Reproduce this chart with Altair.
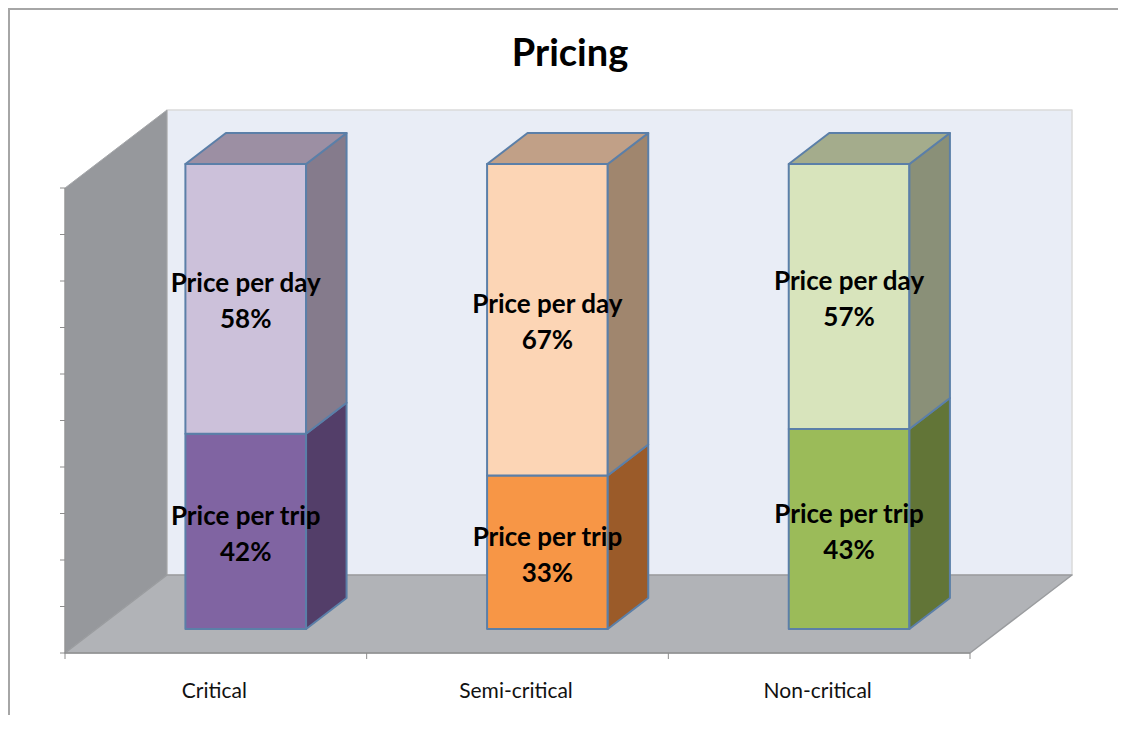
import altair as alt
import pandas as pd

categories = ["Critical", "Semi-critical", "Non-critical"]
price_per_trip = [42, 33, 43]
price_per_day = [58, 67, 57]
series_names = ["Price per trip", "Price per day"]
y_ticks = [0, 10, 20, 30, 40, 50, 60, 70, 80, 90, 100]
x_ticks = [0, 1, 2, 3]

front_colors = [["#8064A2", "#CCC1DA"], ["#F79646", "#FCD5B5"], ["#9BBB59", "#D8E4BC"]]
side_colors = [["#533E69", "#857B8C"], ["#9B5B29", "#A0866E"], ["#627537", "#8A9078"]]
top_colors = ["#9C8FA3", "#C1A087", "#A4AC8C"]

# geometry in data units (x: category widths, y: percent)
UX, UY = 301.67, 4.65
DEPTH_X, DEPTH_Y = 102 / UX, 78 / UY
D0, D1 = 0.308, 0.705
BAR_C, BAR_H = 0.495, 0.2
EDGE = "#5B7FA8"

x_scale = alt.Scale(domain=[-57 / UX, 1053 / UX], nice=False, zero=False)
y_scale = alt.Scale(domain=[-62 / UY, 565 / UY], nice=False, zero=False)
X = alt.X("x:Q", scale=x_scale, axis=None)
Y = alt.Y("y:Q", scale=y_scale, axis=None)

polys = []
def add(pts, fill, stroke, sw):
    # pts: (x, y, y2) columns of a polygon swept along x
    df = pd.DataFrame(pts, columns=["x", "y", "y2"])
    polys.append(alt.Chart(df).mark_area(color=fill, stroke=stroke, strokeWidth=sw, strokeJoin="round", opacity=1)
                 .encode(x=X, y=Y, y2="y2:Q"))

def top_face(a, b, v, d0, d1, fill, stroke, sw):
    ax, bx = a + d0 * DEPTH_X, b + d0 * DEPTH_X
    dx = (d1 - d0) * DEPTH_X
    y0, y1 = v + d0 * DEPTH_Y, v + d1 * DEPTH_Y
    add([(ax, y0, y0), (ax + dx, y0, y1), (bx, y0, y1), (bx + dx, y1, y1)], fill, stroke, sw)

n = len(categories)
# walls and floor
add([(DEPTH_X, DEPTH_Y, 100 + DEPTH_Y), (n + DEPTH_X, DEPTH_Y, 100 + DEPTH_Y)], "#E9EDF6", "#DADADA", 1.5)
add([(0, 0, 100), (DEPTH_X, DEPTH_Y, 100 + DEPTH_Y)], "#96989C", "#A6A8AB", 1)
top_face(0, n, 0, 0, 1, "#B1B3B7", "#9A9C9F", 1.5)

labels = []
for i, cat in enumerate(categories):
    a, b = i + BAR_C - BAR_H, i + BAR_C + BAR_H
    xa, xb = a + D0 * DEPTH_X, b + D0 * DEPTH_X
    xc = xb + (D1 - D0) * DEPTH_X
    ya, yb = D0 * DEPTH_Y, D1 * DEPTH_Y
    base = 0
    for s, vals in enumerate([price_per_trip, price_per_day]):
        v = vals[i]
        add([(xa, base + ya, base + v + ya), (xb, base + ya, base + v + ya)], front_colors[i][s], EDGE, 2)
        add([(xb, base + ya, base + v + ya), (xc, base + yb, base + v + yb)], side_colors[i][s], EDGE, 2)
        labels.append(dict(x=(xa + xb) / 2, y=base + v / 2 + ya + 3.1,
                           t=f"{series_names[s]}\n{v}%"))
        base += v
    top_face(a, b, 100, D0, D1, top_colors[i], EDGE, 2)

AXIS = "#8C8C8C"
tick_x = alt.Chart(pd.DataFrame({"x": x_ticks, "y": [0] * 4, "y2": [-6 / UY] * 4})).mark_rule(color=AXIS, strokeWidth=1).encode(x=X, y=Y, y2="y2:Q")
tick_y = alt.Chart(pd.DataFrame({"y": y_ticks, "x": [0] * 11, "x2": [-5 / UX] * 11})).mark_rule(color=AXIS, strokeWidth=1).encode(x=X, x2="x2:Q", y=Y)
axis_x = alt.Chart(pd.DataFrame({"x": [0], "x2": [3], "y": [0]})).mark_rule(color=AXIS, strokeWidth=1).encode(x=X, x2="x2:Q", y=Y)
axis_y = alt.Chart(pd.DataFrame({"x": [0], "y": [0], "y2": [100]})).mark_rule(color=AXIS, strokeWidth=1).encode(x=X, y=Y, y2="y2:Q")

cat_text = alt.Chart(pd.DataFrame({"x": [i + 0.495 for i in range(n)], "y": [-8.4] * n, "t": categories})).mark_text(
    font="Lato", fontSize=21, color="#111111", baseline="middle", align="center"
).encode(x=X, y=Y, text="t:N")

val_text = alt.Chart(pd.DataFrame(labels)).mark_text(
    font="Lato", fontSize=26, fontWeight="bold", color="#000000", baseline="middle",
    align="center", lineBreak="\n", lineHeight=36
).encode(x=X, y=Y, text="t:N")

frame_top = alt.Chart(pd.DataFrame({"k": [0]})).mark_rule(color="#A6A6A6", strokeWidth=2).encode(
    x=alt.value(0), x2=alt.value(1110), y=alt.value(-79))
frame_left = alt.Chart(pd.DataFrame({"k": [0]})).mark_rule(color="#A6A6A6", strokeWidth=2).encode(
    x=alt.value(1), y=alt.value(-79), y2=alt.value(627))

chart = alt.layer(frame_top, frame_left, *polys, axis_x, axis_y, tick_x, tick_y, cat_text, val_text).properties(
    width=1110, height=627,
    padding={"left": 0, "top": 80, "right": 0, "bottom": 0},
    autosize=alt.AutoSizeParams(type="none"),
    title=alt.TitleParams("Pricing", font="Lato", fontSize=38, fontWeight="bold", color="#000000",
                          anchor="middle", dx=7, offset=-66),
).configure_view(stroke=None)

chart.save("out.html", embed_options={"renderer": "svg", "actions": False})
